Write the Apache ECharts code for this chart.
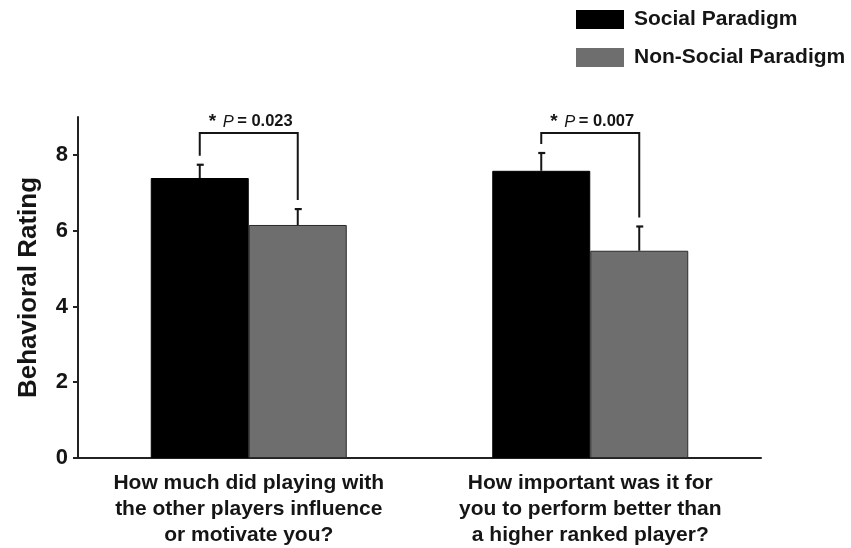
<!DOCTYPE html>
<html>
<head>
<meta charset="utf-8">
<script src="https://cdn.jsdelivr.net/npm/echarts@6/dist/echarts.min.js"></script>
<style>
  html, body { margin: 0; padding: 0; background: #fff; }
  #chart { width: 851px; height: 548px; }
</style>
</head>
<body>
<div id="chart"></div>
<script>
// Survey questions (x categories)
const categories = [
  'How much did playing with\nthe other players influence\nor motivate you?',
  'How important was it for\nyou to perform better than\na higher ranked player?'
];
const seriesNames = ['Social Paradigm', 'Non-Social Paradigm'];

// Mean behavioral ratings and their standard errors
const socialMean = [7.39, 7.58];
const socialSem = [0.35, 0.47];
const nonSocialMean = [6.15, 5.47];
const nonSocialSem = [0.42, 0.64];

// Paired comparison p-values, one per question
const pValues = ['0.023', '0.007'];

// Y axis tick values
const yTicks = [0, 2, 4, 6, 8];

const FONT = "'Liberation Sans', Arial, Helvetica, sans-serif";
const INK = '#151515';
const BAR_W = 98;
const BRACKET_LEVEL = 8.58;   // height of the significance brackets (rating units)
const LEG_GAP = 9;            // px between bracket leg and error cap

// Upward-only error bar drawn at the centre of one of the paired bars
function errorBarSeries(name, means, sems, side) {
  return {
    type: 'custom',
    name: name + ' SEM',
    silent: true,
    z: 5,
    encode: { x: 0, y: [1, 2] },
    data: means.map((m, i) => [i, m, m + sems[i]]),
    renderItem(params, api) {
      const base = api.coord([api.value(0), api.value(1)]);
      const top = api.coord([api.value(0), api.value(2)]);
      const x = base[0] + side * BAR_W / 2;
      return {
        type: 'group',
        children: [
          { type: 'line', shape: { x1: x, y1: base[1], x2: x, y2: top[1] },
            style: { stroke: INK, lineWidth: 2 } },
          { type: 'line', shape: { x1: x - 3, y1: top[1], x2: x + 4, y2: top[1] },
            style: { stroke: INK, lineWidth: 2.2 } }
        ]
      };
    }
  };
}

// Significance bracket with its p-value label
const bracketSeries = {
  type: 'custom',
  name: 'significance',
  silent: true,
  z: 6,
  encode: { x: 0, y: [1, 2] },
  data: categories.map((c, i) => [i, socialMean[i] + socialSem[i], nonSocialMean[i] + nonSocialSem[i], pValues[i]]),
  renderItem(params, api) {
    const i = api.value(0);
    const left = api.coord([i, api.value(1)]);
    const right = api.coord([i, api.value(2)]);
    const topY = api.coord([i, BRACKET_LEVEL])[1];
    const xl = left[0] - BAR_W / 2;
    const xr = left[0] + BAR_W / 2;
    const p = pValues[params.dataIndex];
    return {
      type: 'group',
      children: [
        { type: 'polyline',
          shape: { points: [[xl, left[1] - LEG_GAP], [xl, topY], [xr, topY], [xr, right[1] - LEG_GAP]] },
          style: { stroke: INK, lineWidth: 2, fill: null } },
        { type: 'text',
          x: left[0] + 2, y: topY - 11,
          style: {
            text: '{s|*}  {p|P} {b|= ' + p + '}',
            align: 'center', verticalAlign: 'middle',
            rich: {
              s: { fontFamily: FONT, fontWeight: 'bold', fontSize: 19, fill: INK },
              p: { fontFamily: FONT, fontStyle: 'italic', fontSize: 16.5, fill: INK },
              b: { fontFamily: FONT, fontWeight: 'bold', fontSize: 16.5, fill: INK }
            }
          } }
      ]
    };
  }
};

const chart = echarts.init(document.getElementById('chart'), null, { renderer: 'canvas' });
chart.setOption({
  animation: false,
  backgroundColor: '#fff',
  textStyle: { fontFamily: FONT },
  grid: { left: 78, right: 90, top: 117, bottom: 90, containLabel: false },
  legend: {
    data: seriesNames,
    orient: 'vertical',
    left: 571, top: 4,
    itemWidth: 48, itemHeight: 19, itemGap: 17,
    icon: 'rect',
    itemStyle: { borderWidth: 0 },
    textStyle: { fontFamily: FONT, fontWeight: 'bold', fontSize: 21, color: INK, padding: [0, 0, 0, 5] }
  },
  xAxis: {
    type: 'category',
    data: categories,
    axisTick: { show: false },
    axisLine: { lineStyle: { color: '#222', width: 2 } },
    axisLabel: { interval: 0, fontFamily: FONT, fontWeight: 'bold', fontSize: 21,
                 lineHeight: 26, color: INK, margin: 12, align: 'center' }
  },
  yAxis: {
    type: 'value',
    min: 0, max: 9, interval: 2,
    name: 'Behavioral Rating',
    nameLocation: 'middle',
    nameGap: 36,
    nameTextStyle: { fontFamily: FONT, fontWeight: 'bold', fontSize: 26, color: INK },
    splitLine: { show: false },
    axisLine: { show: true, lineStyle: { color: '#222', width: 2 } },
    axisTick: { show: true, length: 5, customValues: yTicks, lineStyle: { color: '#222', width: 2 } },
    axisLabel: { customValues: yTicks, fontFamily: FONT, fontWeight: 'bold', fontSize: 22, color: INK, margin: 10 }
  },
  series: [
    { name: seriesNames[0], type: 'bar', data: socialMean, barWidth: BAR_W, barGap: '0%',
      itemStyle: { color: '#000', borderColor: '#000', borderWidth: 1 } },
    { name: seriesNames[1], type: 'bar', data: nonSocialMean, barWidth: BAR_W, barGap: '0%',
      itemStyle: { color: '#6e6e6e', borderColor: '#2a2a2a', borderWidth: 1 } },
    errorBarSeries(seriesNames[0], socialMean, socialSem, -1),
    errorBarSeries(seriesNames[1], nonSocialMean, nonSocialSem, 1),
    bracketSeries
  ]
});
</script>
</body>
</html>
